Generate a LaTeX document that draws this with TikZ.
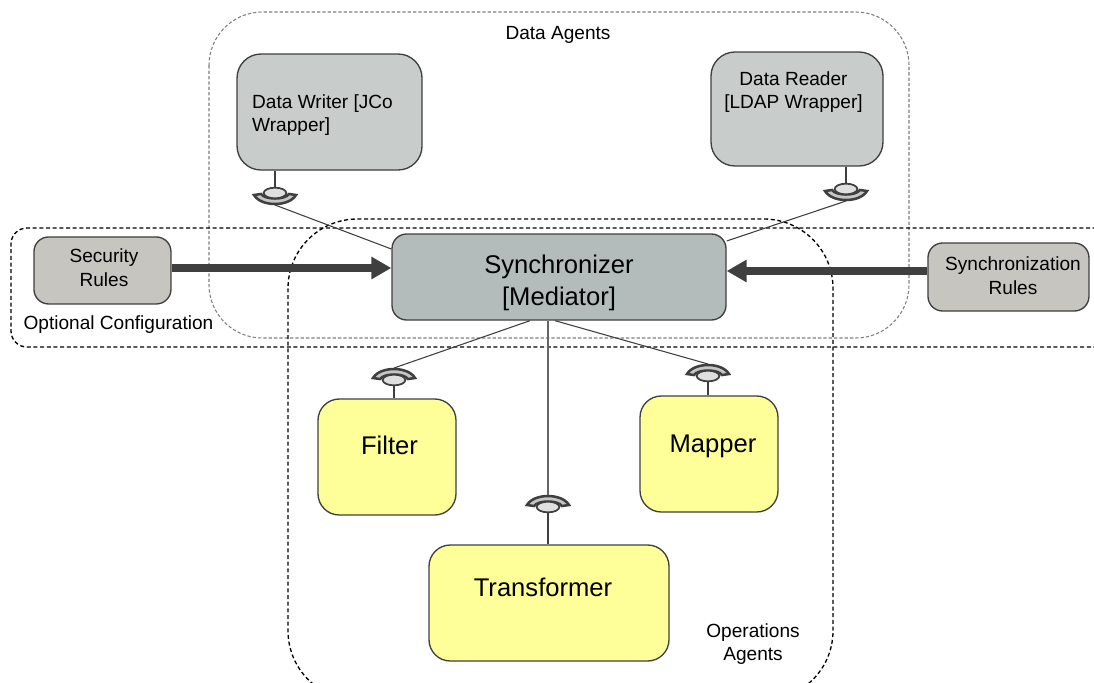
\documentclass[tikz,border=0pt]{standalone}
\usepackage{fontspec}
\setmainfont{Liberation Sans}
\usetikzlibrary{arrows.meta}
\definecolor{agentgray}{HTML}{C8CDCB}
\definecolor{medgray}{HTML}{B3BCBA}
\definecolor{rulegray}{HTML}{C6C5BF}
\definecolor{opyellow}{HTML}{FFFF99}
\definecolor{edgedark}{HTML}{3F3F3F}
\tikzset{
  box/.style={draw=edgedark, line width=1pt, inner sep=0pt, align=center},
  agentbox/.style={box, fill=agentgray, rounded corners=18pt},
  medbox/.style={box, fill=medgray, rounded corners=11pt, minimum width=250.5pt, minimum height=64.5pt},
  rulebox/.style={box, fill=rulegray, rounded corners=11pt},
  opbox/.style={box, fill=opyellow, rounded corners=16pt},
  small/.style={font=\fontsize{14.3}{17.8}\selectfont, align=center},
  large/.style={font=\fontsize{19.2}{24}\selectfont, align=center},
  link/.style={draw=edgedark, line width=.8pt},
  bigarrow/.style={draw=edgedark, line width=6pt, -{Triangle[length=15pt,width=16pt]}},
  region/.style={draw=black, line width=1pt, dash pattern=on 3pt off 2pt},
  sock/.pic={
    \draw[edgedark, line width=1.9pt, fill=gray!45]
      (-21,2) .. controls (-14,14) and (14,14) .. (21,2)
      -- (14,1) .. controls (10,7) and (-10,7) .. (-14,1) -- cycle;
    \draw[edgedark, line width=1.3pt, fill=gray!25] (0,0) ellipse [x radius=8.5pt, y radius=4pt];
    \coordinate (-stem) at (0,-5);
    \coordinate (-rim) at (0,12);
  }
}
\begin{document}
\begin{tikzpicture}[x=.75pt,y=-.75pt]
  \useasboundingbox (0,0) rectangle (1094,682);
  \clip (0,0) rectangle (1094,682);

  % regions
  \draw[draw=gray, line width=.8pt, dash pattern=on 2.5pt off 1.5pt, rounded corners=40pt] (209,12) rectangle (909,338);
  \draw[region, rounded corners=12pt] (1110,228) -- (11,228) -- (11,347) -- (1110,347);
  \draw[region, rounded corners=52pt] (288,219) rectangle (833,700);
  \node[small] (dataagents) at (558,35) {Data Agents};
  \node[small] (optconf) at (118.5,325) {Optional Configuration};
  \node[small] (opagents) at (753,644) {Operations\\Agents};

  % boxes
  \node[medbox] (sync) at (559,277) {};
  \node[agentbox, minimum width=138.75pt, minimum height=87pt] (writer) [above of=sync, node distance=123.75pt, xshift=-172.1pt] {};
  \node[agentbox, minimum width=129pt, minimum height=85.5pt] (reader) [above of=sync, node distance=126pt, xshift=178.5pt] {};
  \node[rulebox, minimum width=102.75pt, minimum height=50.25pt] (security) [left of=sync, node distance=342.4pt, yshift=4.9pt] {};
  \node[rulebox, minimum width=120.75pt, minimum height=51pt] (syncrules) [right of=sync, node distance=337.1pt] {};
  \node[opbox, minimum width=103.5pt, minimum height=87pt] (filter) [below of=sync, node distance=135pt, xshift=-129pt] {};
  \node[opbox, minimum width=103.5pt, minimum height=87pt] (mapper) [below of=sync, node distance=132.75pt, xshift=112.5pt] {};
  \node[opbox, minimum width=180pt, minimum height=87pt] (transformer) [below of=sync, node distance=244.5pt, xshift=-7.5pt] {};

  % box texts
  \node[large] (synctext) at (559,283) {Synchronizer\\{}[Mediator]};
  \node[small] (sectext) at (104,268) {Security\\Rules};
  \node[small] (syncrulestext) at (1013,276) {Synchronization\\Rules};
  \node[small, align=left, anchor=west] (writertext) at (247.5,115) {Data Writer [JCo\\Wrapper]};
  \node[small] (readertext) at (793.5,92) {Data Reader\\{}[LDAP Wrapper]};
  \node[large] (filtertext) at (389.5,445) {Filter};
  \node[large] (mappertext) at (713,446) {Mapper};
  \node[large] (transformertext) at (543,587) {Transformer};

  % sockets
  \pic (wsock) at (275,193) {sock};
  \pic (rsock) at (846,189) {sock};
  \pic[yscale=-1] (fsock) at (394,380) {sock};
  \pic[yscale=-1] (msock) at (708,376) {sock};
  \pic[yscale=-1] (tsock) at (548,507) {sock};

  \draw[link] (writer.south -| wsock-stem) -- (wsock-stem)
              (reader.south -| rsock-stem) -- (rsock-stem)
              (filter.north -| fsock-stem) -- (fsock-stem)
              (mapper.north -| msock-stem) -- (msock-stem)
              (transformer.north -| tsock-stem) -- (tsock-stem);
  \draw[link] (wsock-rim) -- ([yshift=21pt]sync.west);
  \draw[link] (rsock-rim) -- ([yshift=27pt]sync.east);
  \draw[link] (fsock-rim) -- ([xshift=-21.75pt]sync.south);
  \draw[link] (msock-rim) -- ([xshift=-3pt]sync.south);
  \draw[link, line width=1pt, draw=edgedark!80] (tsock-rim) -- (tsock-rim |- sync.south);

  \draw[bigarrow] (security.east |- 0,268) -- (sync.west |- 0,268);
  \draw[bigarrow] (syncrules.west |- 0,271) -- (sync.east |- 0,271);
\end{tikzpicture}
\end{document}
